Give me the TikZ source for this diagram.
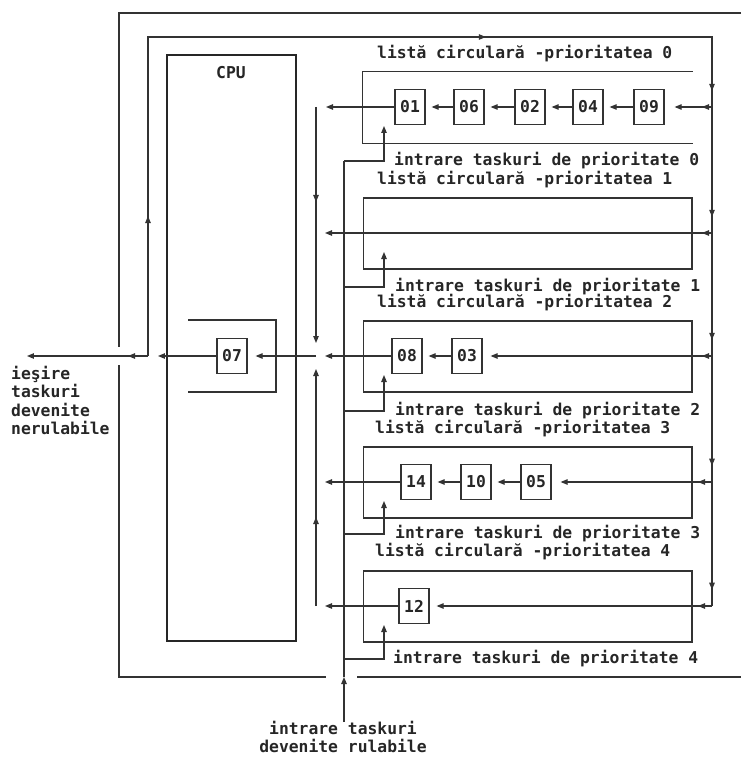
\documentclass[tikz,border=0pt]{standalone}
\usepackage{fontspec}
\setmonofont{DejaVu Sans Mono}
\usetikzlibrary{arrows.meta, decorations.markings}

\begin{document}
\begin{tikzpicture}[x=0.02cm, y=-0.02cm,
        every node/.style={font=\ttfamily\bfseries\fontsize{9.3}{10.4}\selectfont, text=black!85},
        >={Triangle[length=1.4mm, width=1.1mm]},
        wire/.style={draw=black!80, line width=0.6pt},
        task/.style={draw=black!80, line width=0.7pt, minimum width=0.6cm, minimum height=0.7cm, inner sep=0pt},
        listbox/.style={draw=black!80, line width=0.6pt, minimum width=6.58cm, minimum height=1.42cm, inner sep=0pt},
        midtip/.style={postaction={decorate, decoration={markings, mark=at position #1 with {\arrow{>}}}}}]
        \useasboundingbox (0,0) rectangle (741,757);

        % Nodes
        \node[draw=black!85, line width=1.3pt, minimum width=2.58cm, minimum height=11.72cm, inner sep=0pt] (cpu) at (231.5,348) {};
        \node (cpulbl) at (231,73) {CPU};
        \node[task] (t07) at (232,356) {07};

        \node[listbox, draw=none] (list0) at (527.5,107.5) {};
        \node[listbox] (list1) at (527.5,233.5) {};
        \node[listbox] (list2) at (527.5,356.5) {};
        \node[listbox] (list3) at (527.5,482.5) {};
        \node[listbox] (list4) at (527.5,606.5) {};

        \node[task] (t01) at (410,107) {01};
        \node[task] (t06) at (469,107) {06};
        \node[task] (t02) at (530,107) {02};
        \node[task] (t04) at (588,107) {04};
        \node[task] (t09) at (649,107) {09};
        \node[task] (t08) at (407,356) {08};
        \node[task] (t03) at (467,356) {03};
        \node[task] (t14) at (416,482) {14};
        \node[task] (t10) at (476,482) {10};
        \node[task] (t05) at (536,482) {05};
        \node[task] (t12) at (414,606) {12};

        % Labels
        \node[anchor=west] (lc0) at (371,54) {listă circulară -prioritatea 0};
        \node[anchor=west] (lc1) at (371,180) {listă circulară -prioritatea 1};
        \node[anchor=west] (lc2) at (371,303) {listă circulară -prioritatea 2};
        \node[anchor=west] (lc3) at (369,429) {listă circulară -prioritatea 3};
        \node[anchor=west] (lc4) at (369,552) {listă circulară -prioritatea 4};
        \node[anchor=west] (ir0) at (388,161) {intrare taskuri de prioritate 0};
        \node[anchor=west] (ir1) at (389,287) {intrare taskuri de prioritate 1};
        \node[anchor=west] (ir2) at (389,411) {intrare taskuri de prioritate 2};
        \node[anchor=west] (ir3) at (389,534) {intrare taskuri de prioritate 3};
        \node[anchor=west] (ir4) at (387,659) {intrare taskuri de prioritate 4};
        \node[anchor=north west, align=left] (nerulabile) at (5,360) {ieşire\\taskuri\\devenite\\nerulabile};
        \node[align=center] (rulabile) at (343,737) {intrare taskuri\\devenite rulabile};

        % Junctions
        \coordinate (split) at (148,356);
        \coordinate (exit) at (27,356);
        \coordinate (loopTL) at (148,37);
        \coordinate (loopTR) at (712,37);
        \coordinate (rb0) at (712,107);
        \coordinate (rb1) at (712,233);
        \coordinate (rb2) at (712,356);
        \coordinate (rb3) at (712,482);
        \coordinate (rb4) at (712,606);
        \coordinate (lb0) at (316,107);
        \coordinate (lb1) at (316,233);
        \coordinate (cj) at (316,356);
        \coordinate (lb3) at (316,482);
        \coordinate (lb4) at (316,606);
        \coordinate (cjtop) at (316,343);
        \coordinate (cjbot) at (316,369);
        \coordinate (eb0) at (344,161);
        \coordinate (eb1) at (344,287);
        \coordinate (eb2) at (344,411);
        \coordinate (eb3) at (344,534);
        \coordinate (eb4) at (344,659);
        \coordinate (in0) at (384,126);
        \coordinate (in1) at (384,252);
        \coordinate (in2) at (384,375);
        \coordinate (in3) at (384,501);
        \coordinate (in4) at (384,625);
        \coordinate (ebin) at (344,677);
        \coordinate (src) at (344,722);

        % Frame
        \draw[wire] (741,13) -- (119,13) -- (119,347);
        \draw[wire] (119,365) -- (119,677) -- (326,677);
        \draw[wire] (357,677) -- (741,677);
        \draw[wire] (188,320) -- (276,320) -- (276,392) -- (188,392);
        \draw[wire] (list0.north east) -- (list0.north west) -- (list0.south west) -- (list0.south east);

        % Arrows
        \draw[wire, postaction={decorate, decoration={markings,
                mark=at position 2.8cm with {\arrow{>}},
                mark=at position 13.14cm with {\arrow{>}},
                mark=at position 18.74cm with {\arrow{>}},
                mark=at position 21.26cm with {\arrow{>}},
                mark=at position 23.72cm with {\arrow{>}},
                mark=at position 26.24cm with {\arrow{>}},
                mark=at position 28.72cm with {\arrow{>}}}}]
            (split) -- (loopTL) -- (loopTR) -- (rb4);
        \draw[wire, ->, midtip=0.4cm] (split) -- (exit);
        \draw[wire, ->, shorten >=2mm] (t07) -- (split);
        \draw[wire, ->, shorten >=1.6mm] (cj) -- (t07);
        \draw[wire, ->, midtip=1.9cm] (lb0) -- (cjtop);
        \draw[wire, ->, midtip=1.78cm] (lb4) -- (cjbot);

        \draw[wire, ->, shorten >=2mm] (t01) -- (lb0);
        \draw[wire, ->, shorten >=1.8mm, midtip=0.2cm] (rb1) -- (lb1);
        \draw[wire, ->, shorten >=1.8mm] (t08) -- (cj);
        \draw[wire, ->, shorten >=1.8mm] (t14) -- (lb3);
        \draw[wire, ->, shorten >=1.8mm] (t12) -- (lb4);

        \draw[wire, ->, shorten >=1.2mm] (t06) -- (t01);
        \draw[wire, ->, shorten >=1.2mm] (t02) -- (t06);
        \draw[wire, ->, shorten >=1.2mm] (t04) -- (t02);
        \draw[wire, ->, shorten >=1.2mm] (t09) -- (t04);
        \draw[wire, ->, shorten >=1.2mm] (t03) -- (t08);
        \draw[wire, ->, shorten >=1.2mm] (t10) -- (t14);
        \draw[wire, ->, shorten >=1.2mm] (t05) -- (t10);

        \draw[wire, ->, shorten >=2mm, midtip=0.2cm] (rb0) -- (t09);
        \draw[wire, ->, shorten >=1.6mm, midtip=0.2cm] (rb2) -- (t03);
        \draw[wire, ->, shorten >=1.8mm, midtip=0.28cm] (rb3) -- (t05);
        \draw[wire, ->, shorten >=1.4mm, midtip=0.28cm] (rb4) -- (t12);

        \draw[wire, ->] (src) -- (ebin);
        \draw[wire] (ebin) -- (eb0);
        \draw[wire, ->] (eb0) -| (in0);
        \draw[wire, ->] (eb1) -| (in1);
        \draw[wire, ->] (eb2) -| (in2);
        \draw[wire, ->] (eb3) -| (in3);
        \draw[wire, ->] (eb4) -| (in4);
    \end{tikzpicture}
\end{document}
